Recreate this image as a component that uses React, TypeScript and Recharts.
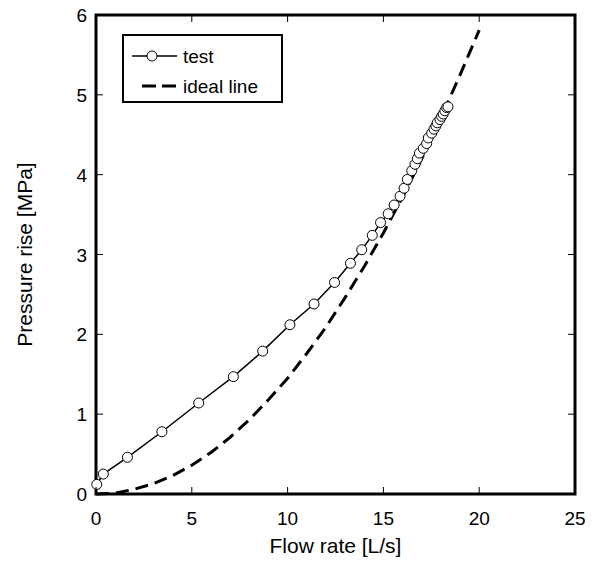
import { LineChart, Line, XAxis, YAxis, ReferenceArea, Label } from "recharts"

const testFlow = [0.04, 0.38, 1.64, 3.44, 5.36, 7.17, 8.7, 10.12, 11.38, 12.45, 13.28, 13.87, 14.42, 14.85, 15.25, 15.56, 15.87, 16.08, 16.25, 16.48, 16.65, 16.77, 16.88, 17.08, 17.26, 17.34, 17.52, 17.64, 17.74, 17.81, 17.95, 18.04, 18.12, 18.21, 18.3, 18.37]
const testPressure = [0.12, 0.25, 0.46, 0.78, 1.14, 1.47, 1.79, 2.12, 2.38, 2.65, 2.89, 3.06, 3.24, 3.4, 3.51, 3.62, 3.73, 3.83, 3.94, 4.05, 4.13, 4.2, 4.27, 4.33, 4.39, 4.46, 4.52, 4.57, 4.61, 4.65, 4.69, 4.73, 4.76, 4.8, 4.84, 4.85]

const idealFlow = [0, 1, 2, 3, 4, 5, 6, 7, 8, 9, 10, 11, 12, 13, 14, 15, 16, 17, 18, 19, 20]
const idealPressure = [0, 0.01, 0.06, 0.13, 0.23, 0.36, 0.52, 0.71, 0.93, 1.18, 1.45, 1.76, 2.09, 2.46, 2.85, 3.27, 3.72, 4.2, 4.71, 5.25, 5.81]

const xTicks = [0, 5, 10, 15, 20, 25]
const yTicks = [0, 1, 2, 3, 4, 5, 6]

const testData = testFlow.map((x, i) => ({ x, y: testPressure[i] }))
const idealData = idealFlow.map((x, i) => ({ x, y: idealPressure[i] }))

const PLOT_W = 479
const PLOT_H = 479
const TICK_LEN = 7
const FONT = "'Liberation Sans', Arial, sans-serif"
const MARGIN = 4

function XTick(props: any) {
  const { x, y, payload } = props
  const axisY = y - MARGIN
  return (
    <g>
      <line x1={x} y1={axisY} x2={x} y2={axisY - TICK_LEN} stroke="#000" strokeWidth={1} />
      <line x1={x} y1={axisY - PLOT_H} x2={x} y2={axisY - PLOT_H + TICK_LEN} stroke="#000" strokeWidth={1} />
      <text x={x} y={axisY + 31} textAnchor="middle" fontSize={19} fontFamily={FONT} fill="#000">
        {payload.value}
      </text>
    </g>
  )
}

function YTick(props: any) {
  const { x, y, payload } = props
  const axisX = x + MARGIN
  return (
    <g>
      <line x1={axisX} y1={y} x2={axisX + TICK_LEN} y2={y} stroke="#000" strokeWidth={1} />
      <line x1={axisX + PLOT_W} y1={y} x2={axisX + PLOT_W - TICK_LEN} y2={y} stroke="#000" strokeWidth={1} />
      <text x={axisX - 9} y={y + 7} textAnchor="end" fontSize={19} fontFamily={FONT} fill="#000">
        {payload.value}
      </text>
    </g>
  )
}

// legend drawn as an overlay so it doesn't eat plot space
function LegendBox() {
  return (
    <div
      style={{
        position: "absolute",
        left: 114,
        top: 34,
        width: 161,
        height: 69,
        border: "2px solid #000",
        boxSizing: "border-box",
        background: "#fff",
      }}
    >
      <svg width={157} height={65} style={{ display: "block" }}>
        <line x1={8} y1={20} x2={53} y2={20} stroke="#000" strokeWidth={1.5} />
        <circle cx={28} cy={20} r={5} fill="#fff" stroke="#000" strokeWidth={1} />
        <text x={59} y={27} fontSize={19} fontFamily={FONT} fill="#000">test</text>
        <line x1={18} y1={50} x2={53} y2={50} stroke="#000" strokeWidth={3} strokeDasharray="14 6" />
        <text x={59} y={57} fontSize={19} fontFamily={FONT} fill="#000">ideal line</text>
      </svg>
    </div>
  )
}

export default function App() {
  return (
    <div style={{ position: "relative", width: 582, height: 560, marginTop: -8, background: "#fff" }}>
      <LineChart
        width={582}
        height={560}
        margin={{ top: 15, right: 15, left: 10, bottom: 6 }}
      >
        <XAxis
          type="number"
          dataKey="x"
          domain={[0, 25]}
          ticks={xTicks}
          interval={0}
          axisLine={false}
          tickLine={false}
          tickSize={0}
          tickMargin={MARGIN}
          tick={<XTick />}
          height={60}
        >
          <Label
            value="Flow rate [L/s]"
            position="insideBottom"
            offset={1}
            style={{ fontSize: 21, fontFamily: FONT, fill: "#000" }}
          />
        </XAxis>
        <YAxis
          type="number"
          dataKey="y"
          domain={[0, 6]}
          ticks={yTicks}
          interval={0}
          axisLine={false}
          tickLine={false}
          tickSize={0}
          tickMargin={MARGIN}
          tick={<YTick />}
          width={78}
        >
          <Label
            value="Pressure rise [MPa]"
            angle={-90}
            position="insideLeft"
            offset={7}
            style={{ fontSize: 21, fontFamily: FONT, fill: "#000", textAnchor: "middle" }}
          />
        </YAxis>
        <ReferenceArea x1={0} x2={25} y1={0} y2={6} fill="none" stroke="#000" strokeWidth={3} />
        <Line
          data={idealData}
          dataKey="y"
          type="linear"
          stroke="#000"
          strokeWidth={3}
          strokeDasharray="13 7"
          dot={false}
          isAnimationActive={false}
        />
        <Line
          data={testData}
          dataKey="y"
          type="linear"
          stroke="#000"
          strokeWidth={1.5}
          dot={{ r: 5, fill: "#fff", stroke: "#000", strokeWidth: 1 }}
          isAnimationActive={false}
        />
      </LineChart>
      <LegendBox />
    </div>
  )
}
